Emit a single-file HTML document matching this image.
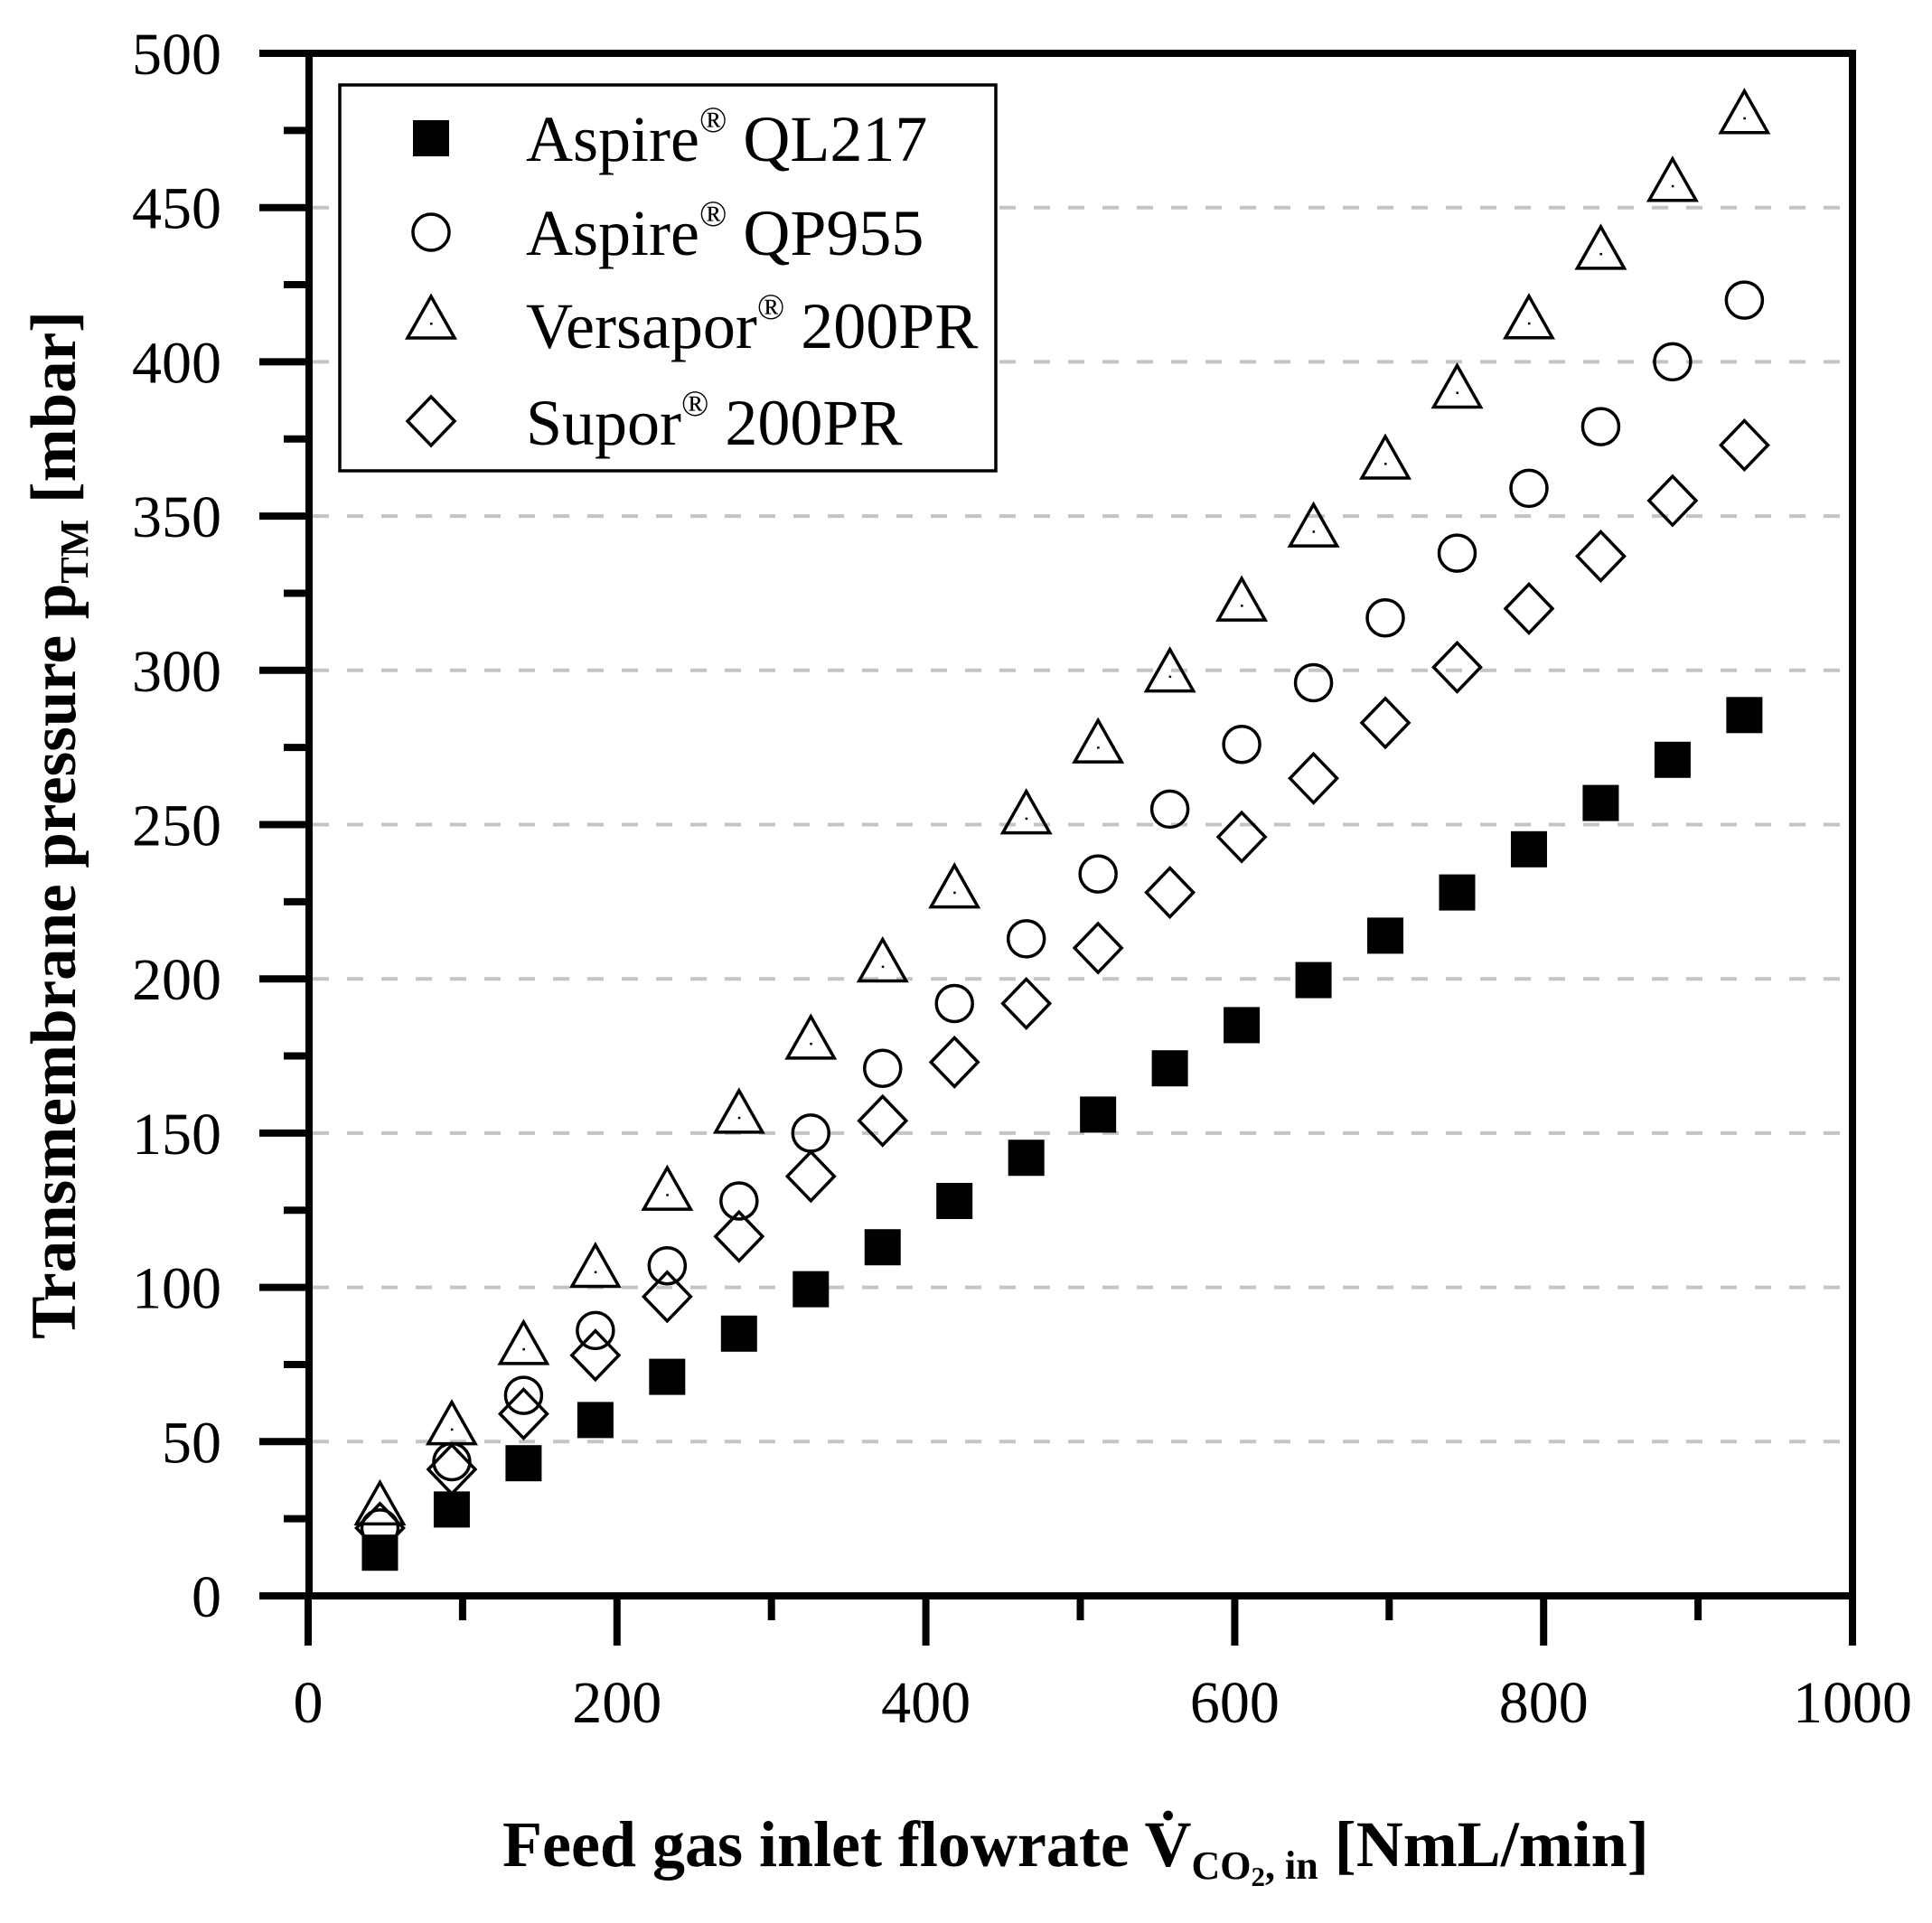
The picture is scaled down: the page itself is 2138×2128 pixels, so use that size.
<!DOCTYPE html>
<html><head><meta charset="utf-8"><style>
html,body{margin:0;padding:0;background:#fff;}
svg{display:block;}
text{font-family:"Liberation Serif",serif;fill:#000;}
</style></head><body>
<svg id="s" xmlns="http://www.w3.org/2000/svg" width="2138" height="2128" viewBox="0 0 2138 2128">
<rect width="2138" height="2128" fill="#fff"/>
<g id="grid" stroke="#c4c4c4" stroke-width="4" stroke-dasharray="18 20"></g>
<g id="ticks" stroke="#000"></g>
<rect x="342" y="59" width="1708" height="1707" fill="none" stroke="#000" stroke-width="8"/>
<g id="labels" font-size="64"></g>
<g id="pts" fill="none" stroke="#000" stroke-width="3.5"></g>
<rect x="376" y="94" width="726" height="427" fill="#fff" stroke="#000" stroke-width="3.5"/>
<g font-size="72">
<text x="582" y="178">Aspire<tspan font-size="40" dy="-32">®</tspan><tspan dy="32"> QL217</tspan></text>
<text x="582" y="282">Aspire<tspan font-size="40" dy="-32">®</tspan><tspan dy="32"> QP955</tspan></text>
<text x="582" y="385">Versapor<tspan font-size="40" dy="-32">®</tspan><tspan dy="32"> 200PR</tspan></text>
<text x="582" y="492">Supor<tspan font-size="40" dy="-32">®</tspan><tspan dy="32"> 200PR</tspan></text>
</g>
<g id="leg" fill="none" stroke="#000" stroke-width="3.5"></g>
<text x="556" y="2065" font-size="72" font-weight="bold">Feed gas inlet flowrate V̇<tspan font-size="44" dy="14">CO</tspan><tspan font-size="31" dy="8">2</tspan><tspan font-size="44" dy="-8">, in</tspan><tspan dy="-14"> [NmL/min]</tspan></text>
<text transform="translate(83,913) rotate(-90)" text-anchor="middle" font-size="71" font-weight="bold">Transmembrane pressure p<tspan font-size="44" dy="14">TM</tspan><tspan dy="-14"> [mbar]</tspan></text>
</svg>
<script>
var NS="http://www.w3.org/2000/svg";
function X(v){return 341+v*1.709;}
function Y(v){return 1766-v*3.414;}
function el(p,t,a,txt){var e=document.createElementNS(NS,t);for(var k in a)e.setAttribute(k,a[k]);if(txt!==undefined)e.textContent=txt;document.getElementById(p).appendChild(e);return e;}
for(var v=50;v<=450;v+=50){el("grid","line",{x1:346,x2:2040,y1:Y(v),y2:Y(v)});}
for(var v=0;v<=500;v+=25){var L=(v%50==0)?55:28;el("ticks","line",{x1:342-L,x2:342,y1:Y(v),y2:Y(v),"stroke-width":8});
 if(v%50==0)el("labels","text",{x:245,y:Y(v)+23,"text-anchor":"end","font-size":66},String(v));}
for(var v=0;v<=1000;v+=100){var L=(v%200==0)?55:27;el("ticks","line",{x1:X(v),x2:X(v),y1:1766,y2:1766+L,"stroke-width":8});
 if(v%200==0)el("labels","text",{x:X(v),y:1906,"text-anchor":"middle","font-size":66},String(v));}
var sq=[14,28,43,57,71,85,99.4,113,128,142,156,171,185,199.6,214,228,242,257,271,285.5];
var ci=[22,43.5,65,86,107,128,150,171,192,213,234,255,276,296,317,338,359,379,400,420];
var tr=[28,54,80,105,130,155,179,204,228,252,275,298,321,345,367,390,412.5,435,457,479];
var di=[22,41,59,78,97,116.5,136,154,173,192,210,228,246,265,283,301,320,337,355,373];
function square(g,x,y){el(g,"rect",{x:x-20,y:y-20,width:40,height:40,fill:"#000",stroke:"none"});}
function circ(g,x,y){el(g,"circle",{cx:x,cy:y,r:20});}
function tri(g,x,y){el(g,"path",{d:"M"+x+","+(y-30)+" L"+(x+26)+","+(y+16)+" L"+(x-26)+","+(y+16)+" Z"});el(g,"rect",{x:x-1,y:y-1,width:2.5,height:2.5,fill:"#000",stroke:"none"});}
function dia(g,x,y){el(g,"path",{d:"M"+x+","+(y-27)+" L"+(x+26)+","+y+" L"+x+","+(y+27)+" L"+(x-26)+","+y+" Z"});}
for(var k=0;k<20;k++){var xv=X(46.5*(k+1));
 tri("pts",xv,Y(tr[k]));circ("pts",xv,Y(ci[k]));dia("pts",xv,Y(di[k]));square("pts",xv,Y(sq[k]));}
square("leg",477,153);circ("leg",477,257);tri("leg",477,358);dia("leg",477,466);
</script>
</body></html>
